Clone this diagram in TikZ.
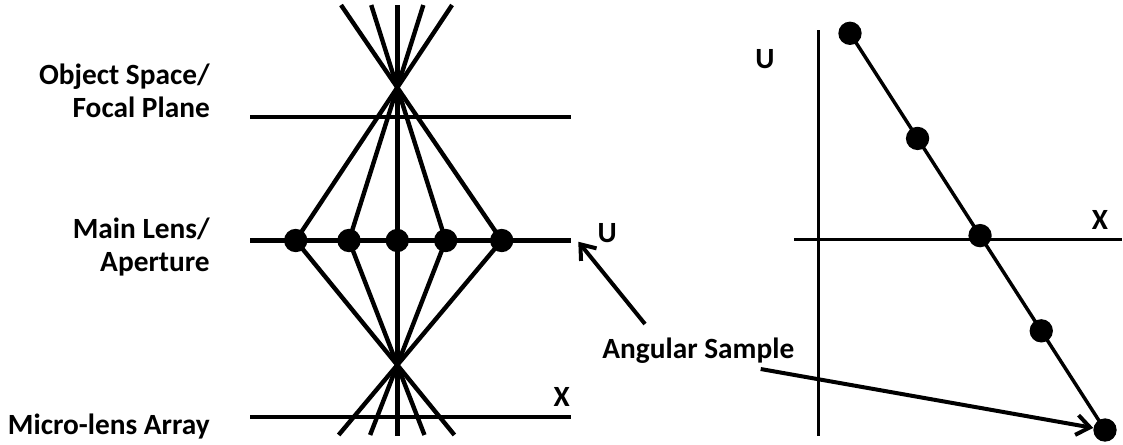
\documentclass[tikz,border=0pt]{standalone}
\usepackage{fontspec}
\setmainfont{Carlito}
\usetikzlibrary{calc,arrows.meta}
\begin{document}
\begin{tikzpicture}[x=0.75pt,y=-0.75pt,
  ray/.style={line width=3.3pt},
  axisline/.style={line width=2.6pt},
  dot/.style={circle,fill=black,inner sep=0pt,minimum size=17.5pt},
  lbl/.style={font=\fontsize{22}{25}\selectfont\bfseries,inner sep=0pt},
  pointer/.style={line width=3pt,-{Straight Barb[length=10pt,width=15pt,line width=3pt]}}]
\useasboundingbox (0,0) rectangle (1123,444);
% ---------- left diagram ----------
\coordinate (F) at (397.3,87.5);
\coordinate (B) at (397.3,365);
\node[dot] (d1) at (295.7,240.5) {};
\node[dot] (d2) at (349,240.5) {};
\node[dot] (d3) at (397.3,240.5) {};
\node[dot] (d4) at (445.7,240.5) {};
\node[dot] (d5) at (501.7,240.5) {};
\coordinate (vt) at (397.3,5);
\coordinate (vb) at (397.3,436);
\coordinate (fpL) at (250,117);  \coordinate (fpR) at (570.7,117);
\coordinate (mlL) at (250,240.5);\coordinate (mlR) at (570.7,240.5);
\coordinate (maL) at (250,416.7);\coordinate (maR) at (570.7,416.7);
\draw[ray] (fpL) -- (fpR);
\draw[ray] (mlL) -- (mlR);
\draw[ray] (maL) -- (maR);
\draw[ray] (vt) -- (vb);
\foreach \d in {d1,d2,d4,d5}{
  \draw[ray] ($(\d.center)!1.539!(F)$) -- (F) -- (\d.center) -- (B) -- ($(\d.center)!1.562!(B)$);
}
\node[lbl,align=right,anchor=east] (lobj) at (210,91) {Object Space/\\Focal Plane};
\node[lbl,align=right,anchor=east] (llens) at (210,247) {Main Lens/\\Aperture};
\node[lbl,anchor=east] (lmla) at (210,427) {Micro-lens Array};
\node[lbl] (uL) at (607.3,233) {U};
\node[lbl] (xL) at (561.7,397) {X};
% ---------- right diagram ----------
\coordinate (ayT) at (818.3,30);  \coordinate (ayB) at (818.3,436);
\coordinate (axL) at (794,239.3); \coordinate (axR) at (1121.7,239.3);
\draw[axisline] (ayT) -- (ayB);
\draw[axisline] (axL) -- (axR);
\coordinate (r1c) at (850,33.3);
\coordinate (r5c) at (1105,430);
\draw[line width=2.6pt] (r1c) -- (r5c);
\node[dot] (r1) at (r1c) {};
\node[dot] (r2) at ($(r1c)!0.265!(r5c)$) {};
\node[dot] (r3) at ($(r1c)!0.51!(r5c)$) {};
\node[dot] (r4) at ($(r1c)!0.75!(r5c)$) {};
\node[dot] (r5) at (r5c) {};
\node[lbl] (uR) at (765,59.5) {U};
\node[lbl] (xR) at (1100,220) {X};
% ---------- angular sample ----------
\node[lbl] (as) at (698.3,351) {Angular Sample};
\coordinate (a1t) at (645,324);
\coordinate (a1h) at (578.3,241.7);
\coordinate (a2t) at (760.7,369);
\draw[pointer] (a1t) -- (a1h);
\draw[pointer] (a2t) -- (r5);
\end{tikzpicture}
\end{document}
